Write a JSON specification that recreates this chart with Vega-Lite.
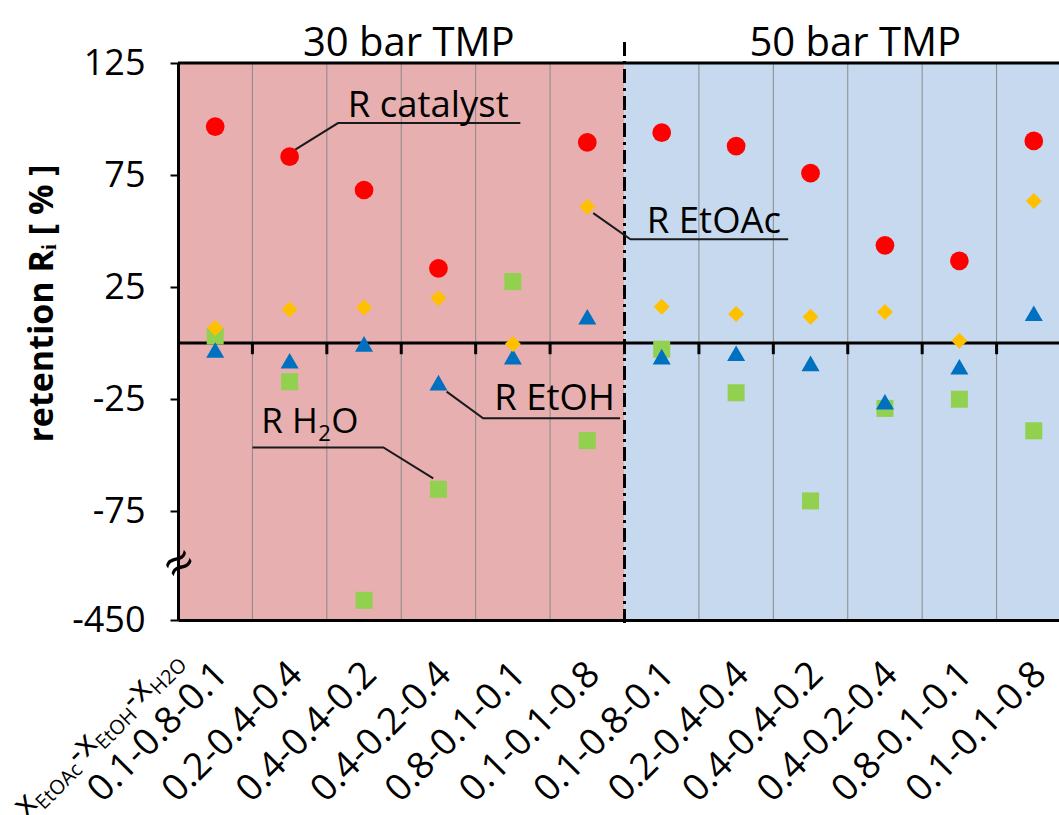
{
  "$schema": "https://vega.github.io/schema/vega-lite/v6.json",
  "width": 881,
  "height": 557,
  "autosize": {"type": "none"},
  "padding": {"left": 178, "top": 63, "right": 0, "bottom": 195},
  "background": "white",
  "config": {"view": {"stroke": null}, "font": "Open Sans"},
  "datasets": {
    "points": [
      {"case": "30 bar TMP|0.1-0.8-0.1", "series": "R catalyst", "v": 96.6},
      {"case": "30 bar TMP|0.1-0.8-0.1", "series": "R EtOAc", "v": 6.7},
      {"case": "30 bar TMP|0.1-0.8-0.1", "series": "R EtOH", "v": -3.1},
      {"case": "30 bar TMP|0.1-0.8-0.1", "series": "R H2O", "v": 3.1},
      {"case": "30 bar TMP|0.2-0.4-0.4", "series": "R catalyst", "v": 83.2},
      {"case": "30 bar TMP|0.2-0.4-0.4", "series": "R EtOAc", "v": 15.0},
      {"case": "30 bar TMP|0.2-0.4-0.4", "series": "R EtOH", "v": -7.9},
      {"case": "30 bar TMP|0.2-0.4-0.4", "series": "R H2O", "v": -17.3},
      {"case": "30 bar TMP|0.4-0.4-0.2", "series": "R catalyst", "v": 68.3},
      {"case": "30 bar TMP|0.4-0.4-0.2", "series": "R EtOAc", "v": 15.8},
      {"case": "30 bar TMP|0.4-0.4-0.2", "series": "R EtOH", "v": -0.4},
      {"case": "30 bar TMP|0.4-0.4-0.2", "series": "R H2O", "v": -320},
      {"case": "30 bar TMP|0.4-0.2-0.4", "series": "R catalyst", "v": 33.3},
      {"case": "30 bar TMP|0.4-0.2-0.4", "series": "R EtOAc", "v": 20.0},
      {"case": "30 bar TMP|0.4-0.2-0.4", "series": "R EtOH", "v": -17.7},
      {"case": "30 bar TMP|0.4-0.2-0.4", "series": "R H2O", "v": -65.3},
      {"case": "30 bar TMP|0.8-0.1-0.1", "series": "R EtOAc", "v": -0.4},
      {"case": "30 bar TMP|0.8-0.1-0.1", "series": "R EtOH", "v": -6.1},
      {"case": "30 bar TMP|0.8-0.1-0.1", "series": "R H2O", "v": 27.4},
      {"case": "30 bar TMP|0.1-0.1-0.8", "series": "R catalyst", "v": 89.6},
      {"case": "30 bar TMP|0.1-0.1-0.8", "series": "R EtOAc", "v": 60.8},
      {"case": "30 bar TMP|0.1-0.1-0.8", "series": "R EtOH", "v": 11.7},
      {"case": "30 bar TMP|0.1-0.1-0.8", "series": "R H2O", "v": -43.6},
      {"case": "50 bar TMP|0.1-0.8-0.1", "series": "R catalyst", "v": 93.9},
      {"case": "50 bar TMP|0.1-0.8-0.1", "series": "R EtOAc", "v": 16.2},
      {"case": "50 bar TMP|0.1-0.8-0.1", "series": "R EtOH", "v": -6.1},
      {"case": "50 bar TMP|0.1-0.8-0.1", "series": "R H2O", "v": -2.8},
      {"case": "50 bar TMP|0.2-0.4-0.4", "series": "R catalyst", "v": 87.9},
      {"case": "50 bar TMP|0.2-0.4-0.4", "series": "R EtOAc", "v": 12.9},
      {"case": "50 bar TMP|0.2-0.4-0.4", "series": "R EtOH", "v": -4.6},
      {"case": "50 bar TMP|0.2-0.4-0.4", "series": "R H2O", "v": -22.2},
      {"case": "50 bar TMP|0.4-0.4-0.2", "series": "R catalyst", "v": 75.8},
      {"case": "50 bar TMP|0.4-0.4-0.2", "series": "R EtOAc", "v": 11.7},
      {"case": "50 bar TMP|0.4-0.4-0.2", "series": "R EtOH", "v": -9.1},
      {"case": "50 bar TMP|0.4-0.4-0.2", "series": "R H2O", "v": -70.5},
      {"case": "50 bar TMP|0.4-0.2-0.4", "series": "R catalyst", "v": 43.6},
      {"case": "50 bar TMP|0.4-0.2-0.4", "series": "R EtOAc", "v": 13.8},
      {"case": "50 bar TMP|0.4-0.2-0.4", "series": "R EtOH", "v": -26.2},
      {"case": "50 bar TMP|0.4-0.2-0.4", "series": "R H2O", "v": -29.2},
      {"case": "50 bar TMP|0.8-0.1-0.1", "series": "R catalyst", "v": 36.7},
      {"case": "50 bar TMP|0.8-0.1-0.1", "series": "R EtOAc", "v": 1.0},
      {"case": "50 bar TMP|0.8-0.1-0.1", "series": "R EtOH", "v": -10.6},
      {"case": "50 bar TMP|0.8-0.1-0.1", "series": "R H2O", "v": -25.1},
      {"case": "50 bar TMP|0.1-0.1-0.8", "series": "R catalyst", "v": 90.2},
      {"case": "50 bar TMP|0.1-0.1-0.8", "series": "R EtOAc", "v": 63.4},
      {"case": "50 bar TMP|0.1-0.1-0.8", "series": "R EtOH", "v": 13.3},
      {"case": "50 bar TMP|0.1-0.1-0.8", "series": "R H2O", "v": -39.2}
    ],
    "panels": [
      {"panel": "30 bar TMP", "x0": 0, "x1": 6},
      {"panel": "50 bar TMP", "x0": 6, "x1": 12.3}
    ],
    "grid": [{"b": 1}, {"b": 2}, {"b": 3}, {"b": 4}, {"b": 5}, {"b": 7}, {"b": 8}, {"b": 9}, {"b": 10}, {"b": 11}],
    "ticks": [{"b": 1}, {"b": 2}, {"b": 3}, {"b": 4}, {"b": 5}, {"b": 6}, {"b": 7}, {"b": 8}, {"b": 9}, {"b": 10}, {"b": 11}],
    "hlines": [{"hv": 0}, {"hv": 125}],
    "leaders": [
      {"ann": "R catalyst", "k": 1, "lx": 1.57, "ly": 86.2},
      {"ann": "R catalyst", "k": 2, "lx": 2.15, "ly": 98.2},
      {"ann": "R catalyst", "k": 3, "lx": 4.6, "ly": 98.2},
      {"ann": "R EtOAc", "k": 1, "lx": 5.58, "ly": 58.0},
      {"ann": "R EtOAc", "k": 2, "lx": 6.08, "ly": 46.3},
      {"ann": "R EtOAc", "k": 3, "lx": 8.2, "ly": 46.3},
      {"ann": "R EtOH", "k": 1, "lx": 3.61, "ly": -21.7},
      {"ann": "R EtOH", "k": 2, "lx": 4.1, "ly": -33.6},
      {"ann": "R EtOH", "k": 3, "lx": 5.94, "ly": -33.6},
      {"ann": "R H2O", "k": 1, "lx": 3.43, "ly": -60.4},
      {"ann": "R H2O", "k": 2, "lx": 2.76, "ly": -46.6},
      {"ann": "R H2O", "k": 3, "lx": 1.0, "ly": -46.6}
    ],
    "labels": [
      {"label": "R catalyst", "tx": 2.28, "ty": 100.9},
      {"label": "R EtOAc", "tx": 6.3, "ty": 49.2},
      {"label": "R EtOH", "tx": 4.25, "ty": -29.9}
    ],
    "headers": [
      {"h": "30 bar TMP", "hx": 3.1},
      {"h": "50 bar TMP", "hx": 9.1}
    ]
  },
  "layer": [
    {
      "data": {"name": "panels"},
      "mark": {"type": "rect"},
      "encoding": {
        "x": {"field": "x0", "type": "quantitative", "scale": {"domain": [0, 12], "range": [0, 893], "nice": false, "zero": false}, "axis": null},
        "x2": {"field": "x1"},
        "y": {
          "datum": -450,
          "type": "quantitative",
          "scale": {"domain": [-450, -100, 125], "range": [557, 504, 0], "nice": false, "zero": false},
          "axis": {
            "title": "retention Rᵢ   [ % ]",
            "values": [125, 75, 25, -25, -75, -450],
            "labelExpr": "toString(datum.value)",
            "orient": "left",
            "domain": true,
            "domainColor": "black",
            "domainWidth": 3,
            "ticks": true,
            "tickColor": "black",
            "tickWidth": 2,
            "tickSize": 8,
            "labels": true,
            "labelFontSize": 36,
            "labelColor": "black",
            "labelPadding": 25,
            "labelBaseline": "middle",
            "labelFlush": false,
            "labelOverlap": false,
            "grid": false,
            "titleFontSize": 34,
            "titleFontWeight": "bold",
            "titleColor": "black",
            "titleAngle": 270,
            "titleAlign": "center",
            "titleBaseline": "middle",
            "titleX": -136,
            "titleY": 240,
            "zindex": 1
          }
        },
        "y2": {"datum": 125},
        "color": {"field": "panel", "type": "nominal", "scale": {"domain": ["30 bar TMP", "50 bar TMP"], "range": ["#E7AFAF", "#C6D9EE"]}, "legend": null}
      }
    },
    {
      "data": {"name": "grid"},
      "mark": {"type": "rule", "color": "#8A8A8A", "strokeWidth": 1},
      "encoding": {
        "x": {"field": "b", "type": "quantitative", "scale": {"domain": [0, 12], "range": [0, 893], "nice": false, "zero": false}, "axis": null},
        "y": {"datum": -450, "type": "quantitative", "scale": {"domain": [-450, -100, 125], "range": [557, 504, 0], "nice": false, "zero": false}},
        "y2": {"datum": 125}
      }
    },
    {
      "data": {"name": "hlines"},
      "mark": {"type": "rule", "color": "black", "strokeWidth": 3},
      "encoding": {
        "x": {"datum": 0, "type": "quantitative", "scale": {"domain": [0, 12], "range": [0, 893], "nice": false, "zero": false}, "axis": null},
        "x2": {"datum": 12.3},
        "y": {"field": "hv", "type": "quantitative", "scale": {"domain": [-450, -100, 125], "range": [557, 504, 0], "nice": false, "zero": false}}
      }
    },
    {
      "data": {"name": "ticks"},
      "mark": {"type": "rule", "color": "black", "strokeWidth": 3},
      "encoding": {
        "x": {"field": "b", "type": "quantitative", "scale": {"domain": [0, 12], "range": [0, 893], "nice": false, "zero": false}, "axis": null},
        "y": {"datum": 0, "type": "quantitative", "scale": {"domain": [-450, -100, 125], "range": [557, 504, 0], "nice": false, "zero": false}},
        "y2": {"datum": -5}
      }
    },
    {
      "data": {"values": [{}]},
      "mark": {"type": "rule", "color": "black", "strokeWidth": 3, "strokeDash": [14, 5, 3, 5]},
      "encoding": {
        "x": {"datum": 6, "type": "quantitative", "scale": {"domain": [0, 12], "range": [0, 893], "nice": false, "zero": false}, "axis": null},
        "y": {"datum": -470, "type": "quantitative", "scale": {"domain": [-450, -100, 125], "range": [557, 504, 0], "nice": false, "zero": false}},
        "y2": {"datum": 136}
      }
    },
    {
      "data": {"name": "leaders"},
      "mark": {"type": "line", "color": "#1a1a1a", "strokeWidth": 2},
      "encoding": {
        "x": {"field": "lx", "type": "quantitative", "scale": {"domain": [0, 12], "range": [0, 893], "nice": false, "zero": false}, "axis": null},
        "y": {"field": "ly", "type": "quantitative", "scale": {"domain": [-450, -100, 125], "range": [557, 504, 0], "nice": false, "zero": false}},
        "detail": {"field": "ann", "type": "nominal"},
        "order": {"field": "k", "type": "quantitative"}
      }
    },
    {
      "data": {"name": "labels"},
      "mark": {"type": "text", "align": "left", "baseline": "alphabetic", "fontSize": 36.5, "color": "black"},
      "encoding": {
        "x": {"field": "tx", "type": "quantitative", "scale": {"domain": [0, 12], "range": [0, 893], "nice": false, "zero": false}, "axis": null},
        "y": {"field": "ty", "type": "quantitative", "scale": {"domain": [-450, -100, 125], "range": [557, 504, 0], "nice": false, "zero": false}},
        "text": {"field": "label"}
      }
    },
    {
      "data": {"values": [{}]},
      "encoding": {
        "x": {"datum": 1.12, "type": "quantitative", "scale": {"domain": [0, 12], "range": [0, 893], "nice": false, "zero": false}, "axis": null},
        "y": {"datum": -40, "type": "quantitative", "scale": {"domain": [-450, -100, 125], "range": [557, 504, 0], "nice": false, "zero": false}}
      },
      "layer": [
        {"mark": {"type": "text", "text": "R H", "align": "left", "baseline": "alphabetic", "fontSize": 35, "color": "black"}},
        {"mark": {"type": "text", "text": "2", "align": "left", "baseline": "alphabetic", "fontSize": 22, "dx": 57, "dy": 8, "color": "black"}},
        {"mark": {"type": "text", "text": "O", "align": "left", "baseline": "alphabetic", "fontSize": 35, "dx": 70, "color": "black"}}
      ]
    },
    {
      "data": {"name": "headers"},
      "mark": {"type": "text", "align": "center", "baseline": "alphabetic", "fontSize": 40, "dy": -7, "color": "black"},
      "encoding": {
        "x": {"field": "hx", "type": "quantitative", "scale": {"domain": [0, 12], "range": [0, 893], "nice": false, "zero": false}, "axis": null},
        "y": {"datum": 125, "type": "quantitative", "scale": {"domain": [-450, -100, 125], "range": [557, 504, 0], "nice": false, "zero": false}},
        "text": {"field": "h"}
      }
    },
    {
      "data": {"values": [{}]},
      "mark": {"type": "text", "text": "≈", "align": "center", "baseline": "middle", "fontSize": 50, "angle": -35, "dx": 3, "color": "black"},
      "encoding": {
        "x": {"datum": 0, "type": "quantitative", "scale": {"domain": [0, 12], "range": [0, 893], "nice": false, "zero": false}, "axis": null},
        "y": {"datum": -100, "type": "quantitative", "scale": {"domain": [-450, -100, 125], "range": [557, 504, 0], "nice": false, "zero": false}}
      }
    },
    {
      "data": {"values": [{}]},
      "encoding": {
        "x": {"datum": 0.5, "type": "quantitative", "scale": {"domain": [0, 12], "range": [0, 893], "nice": false, "zero": false}, "axis": null},
        "y": {"datum": -450, "type": "quantitative", "scale": {"domain": [-450, -100, 125], "range": [557, 504, 0], "nice": false, "zero": false}}
      },
      "layer": [
        {"mark": {"type": "text", "text": "H2O", "angle": -45, "align": "right", "baseline": "alphabetic", "fontSize": 20, "dx": -52, "dy": 13.5, "color": "black"}},
        {"mark": {"type": "text", "text": "x", "angle": -45, "align": "right", "baseline": "alphabetic", "fontSize": 34, "dx": -93.8, "dy": 6.5, "color": "black"}},
        {"mark": {"type": "text", "text": "-", "angle": -45, "align": "right", "baseline": "alphabetic", "fontSize": 34, "dx": -111.6, "dy": 6.5, "color": "black"}},
        {"mark": {"type": "text", "text": "EtOH", "angle": -45, "align": "right", "baseline": "alphabetic", "fontSize": 20, "dx": -122.5, "dy": 13.5, "color": "black"}},
        {"mark": {"type": "text", "text": "x", "angle": -45, "align": "right", "baseline": "alphabetic", "fontSize": 34, "dx": -171.2, "dy": 6.5, "color": "black"}},
        {"mark": {"type": "text", "text": "-", "angle": -45, "align": "right", "baseline": "alphabetic", "fontSize": 34, "dx": -189, "dy": 6.5, "color": "black"}},
        {"mark": {"type": "text", "text": "EtOAc", "angle": -45, "align": "right", "baseline": "alphabetic", "fontSize": 20, "dx": -199.9, "dy": 13.5, "color": "black"}},
        {"mark": {"type": "text", "text": "x", "angle": -45, "align": "right", "baseline": "alphabetic", "fontSize": 34, "dx": -256.1, "dy": 6.5, "color": "black"}}
      ]
    },
    {
      "data": {"name": "points"},
      "encoding": {
        "x": {
          "field": "case",
          "type": "nominal",
          "scale": {
            "type": "point",
            "padding": 0.5,
            "range": [0, 893],
            "domain": ["30 bar TMP|0.1-0.8-0.1", "30 bar TMP|0.2-0.4-0.4", "30 bar TMP|0.4-0.4-0.2", "30 bar TMP|0.4-0.2-0.4", "30 bar TMP|0.8-0.1-0.1", "30 bar TMP|0.1-0.1-0.8", "50 bar TMP|0.1-0.8-0.1", "50 bar TMP|0.2-0.4-0.4", "50 bar TMP|0.4-0.4-0.2", "50 bar TMP|0.4-0.2-0.4", "50 bar TMP|0.8-0.1-0.1", "50 bar TMP|0.1-0.1-0.8"]
          },
          "axis": {
            "title": null,
            "orient": "bottom",
            "domain": true,
            "domainColor": "black",
            "domainWidth": 3,
            "ticks": false,
            "tickSize": 0,
            "grid": false,
            "labelAngle": -45,
            "labelAlign": "right",
            "labelBaseline": "alphabetic",
            "labelPadding": 56,
            "labelOffset": 14,
            "labelFontSize": 37,
            "labelColor": "black",
            "labelLimit": 0,
            "labelOverlap": false,
            "labelExpr": "split(datum.label, '|')[1]",
            "zindex": 1
          }
        },
        "y": {
          "field": "v",
          "type": "quantitative",
          "scale": {"domain": [-450, -100, 125], "range": [557, 504, 0], "nice": false, "zero": false}
        }
      },
      "layer": [
        {"transform": [{"filter": "datum.series === 'R H2O'"}], "mark": {"type": "point", "shape": "square", "filled": true, "size": 289, "color": "#92D050", "opacity": 1}},
        {"transform": [{"filter": "datum.series === 'R EtOH'"}], "mark": {"type": "point", "shape": "triangle-up", "filled": true, "size": 324, "color": "#0070C0", "opacity": 1}},
        {"transform": [{"filter": "datum.series === 'R EtOAc'"}], "mark": {"type": "point", "shape": "diamond", "filled": true, "size": 256, "color": "#FFC000", "opacity": 1}},
        {"transform": [{"filter": "datum.series === 'R catalyst'"}], "mark": {"type": "point", "shape": "circle", "filled": true, "size": 350, "color": "#FF0000", "opacity": 1}}
      ]
    }
  ],
  "resolve": {"scale": {"x": "independent"}}
}
